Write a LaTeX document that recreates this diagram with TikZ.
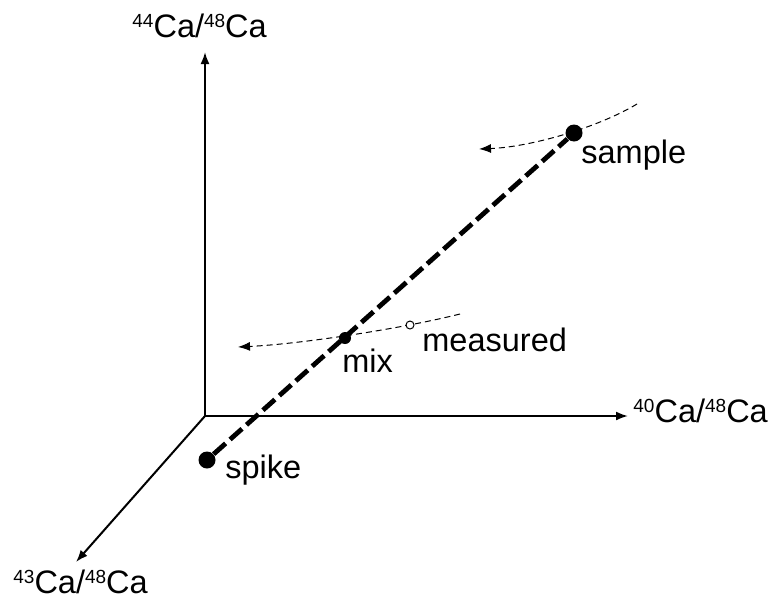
\documentclass[tikz,border=0pt]{standalone}
\usepackage{fontspec}
\setmainfont{Liberation Sans}
\usetikzlibrary{arrows.meta,positioning}
\newcommand{\iso}[1]{\raisebox{4.8pt}{\fontsize{9.5}{9.5}\selectfont #1}}

\begin{document}
\begin{tikzpicture}[
    x=0.5pt, y=0.5pt,
    axis/.style={line width=1pt, -{Latex[length=6pt,width=4.5pt]}},
    mixline/.style={line width=2.4pt, dash pattern=on 8pt off 3pt},
    trend/.style={line width=0.5pt, dash pattern=on 3pt off 2pt,
                  -{Latex[length=6pt,width=4.5pt]}},
    bigdot/.style={circle, fill=black, inner sep=0pt, minimum size=8.5pt},
    middot/.style={circle, fill=black, inner sep=0pt, minimum size=6pt},
    opendot/.style={circle, draw, fill=white, line width=0.5pt,
                    inner sep=0pt, minimum size=4pt},
    lbl/.style={font=\fontsize{16.25}{19}\selectfont, inner sep=0pt,
                anchor=base west},
]
\useasboundingbox (0,0) rectangle (769,602);

% ---- Axes ----
\coordinate (o)    at (205,186);
\coordinate (ytip) at (205,550);
\coordinate (xtip) at (628,186);
\coordinate (ztip) at (76,40);
\draw[axis] (o) -- (ytip);
\draw[axis] (o) -- (xtip);
\draw[axis] (o) -- (ztip);

\node[lbl] (ylbl) at (132,565) {\iso{44}Ca/\iso{48}Ca};
\node[lbl] (xlbl) at (633,180) {\iso{40}Ca/\iso{48}Ca};
\node[lbl] (zlbl) at (13,9)    {\iso{43}Ca/\iso{48}Ca};

% ---- Fractionation trends ----
\coordinate (sa) at (637,498);
\coordinate (sb) at (479,453);
\coordinate (ma) at (460,288);
\coordinate (mb) at (238,255);
\draw[trend] (sa) .. controls (597,474) and (530,455) .. (sb);
\draw[trend] (ma) .. controls (400,273) and (300,258) .. (mb);

% ---- Points ----
\node[bigdot]  (spike)    at (207,142) {};
\node[bigdot]  (sample)   at (574,469) {};
\node[middot]  (mix)      at (345,264) {};
\node[opendot] (measured) at (410,277) {};

\draw[mixline] (spike) -- (sample);

\node[lbl] (samplelbl)   at (581,439) {sample};
\node[lbl] (measuredlbl) at (422,251) {measured};
\node[lbl] (mixlbl)      at (342,230) {mix};
\node[lbl] (spikelbl)    at (225,124) {spike};
\end{tikzpicture}
\end{document}
